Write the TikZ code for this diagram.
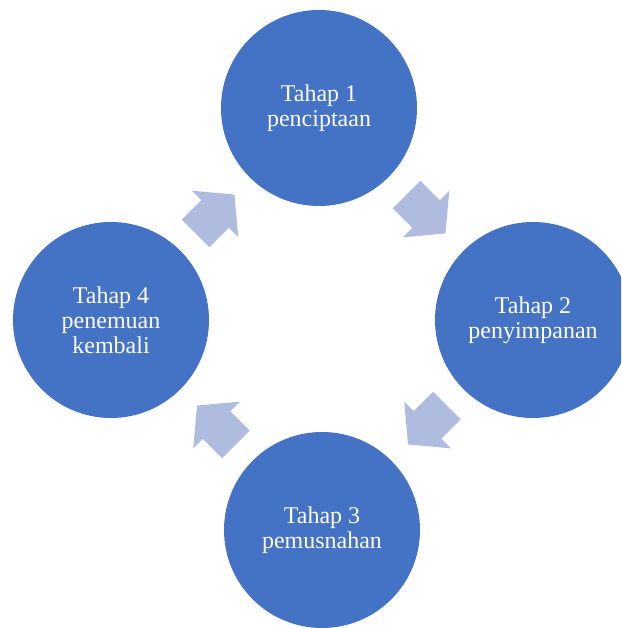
\documentclass[tikz,border=0pt]{standalone}
\usepackage{fontspec}
\setmainfont{Liberation Serif}
\usetikzlibrary{calc}
\definecolor{stageblue}{RGB}{68,114,196}
\definecolor{arrowblue}{RGB}{176,188,223}

\begin{document}
\begin{tikzpicture}[
  x=1pt, y=1pt,
  stage/.style={circle, fill=stageblue, minimum size=196pt, inner sep=0pt,
    text=white, align=center, font=\fontsize{24}{25}\selectfont}
]
\useasboundingbox (0,0) rectangle (621,628);
\clip (0,0) rectangle (621,628);

\node[stage] (1) at (319,520) {Tahap 1\\penciptaan};
\node[stage] (2) at (533,308) {Tahap 2\\penyimpanan};
\node[stage] (3) at (322,98) {Tahap 3\\pemusnahan};
\node[stage] (4) at (111,308) {Tahap 4\\penemuan\\kembali};

% block arrows halfway between the stages
\foreach \a/\b/\ang in {1/2/-45, 2/3/-135, 3/4/135, 4/1/45}
  \fill[arrowblue, shift={($(\a)!0.5!(\b)$)}, rotate=\ang]
    (-27.5,-19.5) -- (0,-19.5) -- (0,-33) -- (27.5,0) -- (0,33) -- (0,19.5) -- (-27.5,19.5) -- cycle;
\end{tikzpicture}
\end{document}
